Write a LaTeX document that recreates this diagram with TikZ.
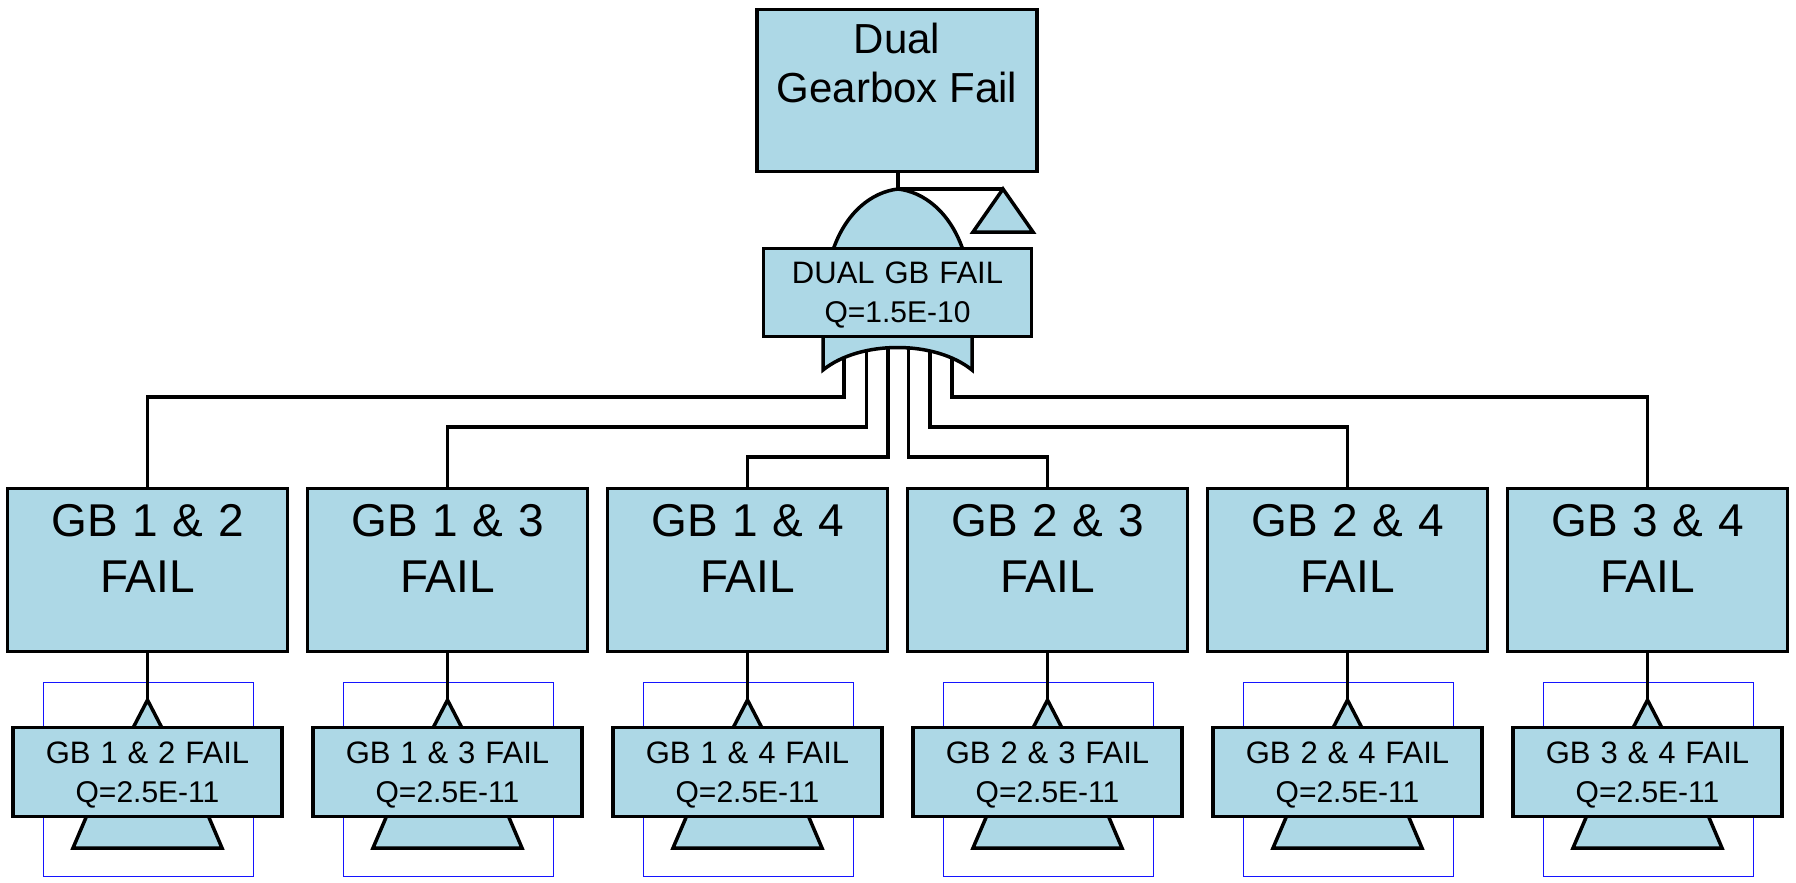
\documentclass[tikz,border=0pt]{standalone}
\usepackage{fontspec}
\setmainfont{Liberation Sans}
\newfontfamily\widesp[WordSpace=1.3]{Liberation Sans}
\newfontfamily\midsp[WordSpace=1.15]{Liberation Sans}
\usetikzlibrary{calc}
\definecolor{fillb}{RGB}{173,216,230}
\definecolor{rectb}{RGB}{20,20,255}
\tikzset{
  evbox/.style={draw=black, fill=fillb, line width=3.5pt, inner sep=0pt, minimum width=280pt, minimum height=163pt},
  topbox/.style={draw=black, fill=fillb, line width=3.5pt, inner sep=0pt, minimum width=280pt, minimum height=162pt},
  lblbox/.style={draw=black, fill=fillb, line width=3.5pt, inner sep=0pt, minimum width=269pt, minimum height=89pt},
  gatelbl/.style={draw=black, fill=fillb, line width=3.5pt, inner sep=0pt, minimum width=268pt, minimum height=88pt},
  pagebox/.style={draw=rectb, line width=1.6pt, inner sep=0pt, minimum width=210pt, minimum height=194pt},
  gateshape/.style={draw=black, fill=fillb, line width=3.5pt, line join=miter},
  wire/.style={draw=black, line width=3.5pt},
  bigtxt/.style={anchor=base, inner sep=0pt, font=\fontsize{42}{48}\selectfont},
  midtxt/.style={anchor=base, inner sep=0pt, font=\midsp\fontsize{46}{54}\selectfont},
  smalltxt/.style={anchor=base, inner sep=0pt, font=\widesp\fontsize{31}{36}\selectfont},
  qtxt/.style={anchor=base, inner sep=0pt, font=\fontsize{30}{36}\selectfont},
}
\begin{document}
\begin{tikzpicture}[x=1pt,y=-1pt]
\useasboundingbox[fill=white] (0,0) rectangle (1796,883);

% bottom transfer blocks and intermediate events
\foreach \i/\a/\b in {0/1/2,1/1/3,2/1/4,3/2/3,4/2/4,5/3/4} {
  \pgfmathsetmacro\cx{147.5+300*\i}
  \node[pagebox] (p\i) at (\cx+1,779.5) {};
  \coordinate (t\i) at (\cx,700);
  \path[gateshape] (t\i) -- ++(-14.5,28) -- ++(29,0) -- cycle;
  \path[gateshape] (\cx-60,814) -- (\cx-74.5,848) -- (\cx+74.5,848) -- (\cx+60,814) -- cycle;
  \node[lblbox] (l\i) at (\cx,772) {};
  \node[smalltxt] at (\cx,763) {GB \a\ \& \b\ FAIL};
  \node[qtxt] at (\cx,802) {Q=2.5E-11};
  \node[evbox] (m\i) at (\cx,570) {};
  \node[midtxt] at (\cx,536) {GB \a\ \& \b};
  \node[midtxt] at (\cx,592) {FAIL};
  \draw[wire] (m\i.south) -- (t\i);
}

% connectors from the gate
\foreach \i/\gx/\hy in {0/844/397,1/866.5/427,2/888/457,3/908.5/457,4/930/427,5/952/397} {
  \coordinate (g\i) at (\gx,345);
  \coordinate (h\i) at (0,\hy);
  \draw[wire] (g\i) -- (g\i |- h\i) -| (m\i.north);
}

% top gate
\coordinate (gpeak) at (898,189);
\coordinate (ta) at (1003,189);
\path[gateshape] (833,250) .. controls (846,212) and (872,192) .. (gpeak)
  .. controls (924,192) and (950,212) .. (963,250) -- cycle;
\path[gateshape] (823,334) -- (823,370) .. controls (860,340) and (935,340) .. (972,370) -- (972,334) -- cycle;
\node[gatelbl] (gl) at (897.5,292.5) {};
\node[smalltxt] at (897.5,283) {DUAL GB FAIL};
\node[qtxt] at (897.5,322) {Q=1.5E-10};

% top event
\node[topbox] (top) at (897,90.5) {};
\node[bigtxt] at (897,53) {Dual};
\node[bigtxt] at (897,102) {Gearbox Fail};
\draw[wire] (top.south -| gpeak) -- (gpeak) -- (ta);
\path[gateshape] (ta) -- (973,232) -- (1033,232) -- cycle;
\end{tikzpicture}
\end{document}
